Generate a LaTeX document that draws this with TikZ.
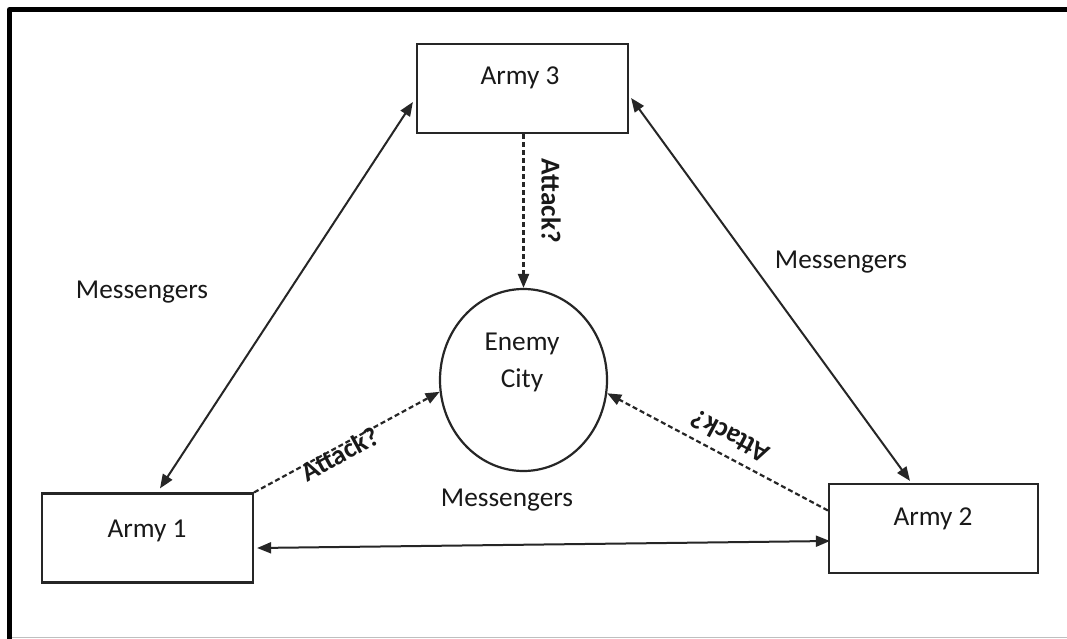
\documentclass[tikz,border=0pt]{standalone}
\usepackage{fontspec}
\setmainfont{Carlito}
\usetikzlibrary{arrows.meta,shapes.geometric,calc}
\begin{document}
\begin{tikzpicture}[x=1pt,y=-1pt,
  font=\fontsize{27.3}{32}\selectfont,
  army/.style={draw=black!85,line width=2.2pt,minimum width=211pt,minimum height=89pt,inner sep=0pt},
  citycircle/.style={ellipse,draw=black!85,line width=2.2pt,minimum width=167pt,minimum height=182pt,inner sep=0pt},
  tip/.tip={Triangle[length=14pt,width=11pt]},
  msg/.style={line width=2pt,draw=black!85,tip-tip},
  atk/.style={line width=2.2pt,draw=black!85,dash pattern=on 5pt off 3pt,-tip},
  lbl/.style={inner sep=0pt,text=black!90},
  atklbl/.style={inner sep=0pt,text=black!90,font=\fontsize{27.3}{32}\selectfont\bfseries}
]
\useasboundingbox (0,0) rectangle (1067,639);
\fill[white] (0,0) rectangle (1067,639);

% frame
\draw[line width=5pt,line join=round] (9.5,639) -- (9.5,9.5) -- (1067,9.5);
\draw[black!25,line width=1.2pt] (12,637.5) -- (1067,637.5);

% armies and the city
\node[army] (a3) at (522.5,88.5) {};
\node[army] (a1) at (147.5,538) {};
\node[army,minimum width=209pt] (a2) at (933.5,528.5) {};
\node[citycircle] (city) at (523.5,380) {};

\node[lbl,anchor=base] (a3t) at (520,85) {Army 3};
\node[lbl,anchor=base] (a1t) at (147,537) {Army 1};
\node[lbl,anchor=base] (a2t) at (933,525) {Army 2};
\node[lbl,anchor=base] (ct1) at (522,350) {Enemy};
\node[lbl,anchor=base] (ct2) at (522,387) {City};

% messenger links
\draw[msg] ($(a3.west)+(-3,13.5)$) -- ($(a1.north)+(12.5,-4)$);
\draw[msg] ($(a3.east)+(2,9.5)$) -- ($(a2.north)+(-23.5,-2)$);
\draw[msg] ($(a1.east)+(3,10)$) -- ($(a2.west)+(2,12.5)$);

% attack orders
\draw[atk] (a3.south -| city.north) -- (city.north);
\draw[atk] (a1.north east) -- (city.188);
\draw[atk] ($(a2.west)+(0,-18)$) -- (city.351);

% labels
\node[lbl] (m1) at (142,292) {Messengers};
\node[lbl] (m2) at (841,262) {Messengers};
\node[lbl] (m3) at (507,500) {Messengers};
\node[atklbl,rotate=-90] (t3) at (551,201) {Attack?};
\node[atklbl,rotate=28.7] (t1) at (340,454) {Attack?};
\node[atklbl,rotate=152] (t2) at (730,437) {Attack?};
\end{tikzpicture}
\end{document}
